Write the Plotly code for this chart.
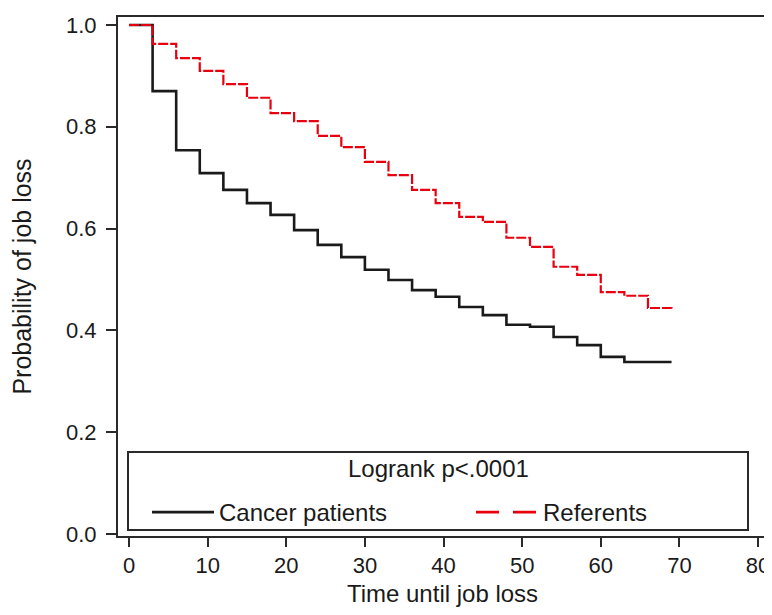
import plotly.graph_objects as go

# ---- data ----
time_months = [0, 3, 6, 9, 12, 15, 18, 21, 24, 27, 30, 33, 36, 39, 42, 45,
               48, 51, 54, 57, 60, 63, 66, 69]
cancer_patients = [1.000, 0.870, 0.754, 0.709, 0.676, 0.650, 0.627, 0.597,
                   0.568, 0.544, 0.519, 0.499, 0.479, 0.466, 0.446, 0.430,
                   0.411, 0.407, 0.387, 0.371, 0.348, 0.338, 0.338, 0.338]
referents = [1.000, 0.963, 0.935, 0.910, 0.884, 0.857, 0.827, 0.811,
             0.782, 0.760, 0.731, 0.705, 0.676, 0.650, 0.623, 0.613,
             0.582, 0.564, 0.525, 0.509, 0.475, 0.468, 0.444, 0.440]
x_ticks = [0, 10, 20, 30, 40, 50, 60, 70, 80]
y_ticks = [0.0, 0.2, 0.4, 0.6, 0.8, 1.0]
y_tick_labels = ["0.0", "0.2", "0.4", "0.6", "0.8", "1.0"]
legend_title = "Logrank p<.0001"

FONT = "Liberation Sans, Arial, sans-serif"
AX = "#2a2a2a"
RED = "#e8000f"
INK = "#1a1a1a"

# the page body has an 8px default margin: figure sits at (8, 8) on screen;
# keep the page from scrolling (8 + H + 8 <= 615)
OFF = 8
W, H = 772 - OFF, 615 - 2 * OFF
PW, PH = 649, 519
ML, MT = 118 - OFF, 17 - OFF
MR = W - ML - PW
MB = H - MT - PH


def px(xs):
    """screen x (px) -> paper fraction"""
    return (xs - OFF - ML) / PW


def py(ys):
    """screen y (px) -> paper fraction"""
    return (MT + PH - (ys - OFF)) / PH


fig = go.Figure()
fig.add_trace(go.Scatter(
    x=time_months, y=cancer_patients, mode="lines", line_shape="hv",
    line=dict(color=INK, width=2.6), name="Cancer patients",
    legendrank=1))
fig.add_trace(go.Scatter(
    x=time_months, y=referents, mode="lines", line_shape="hv",
    line=dict(color=RED, width=2.2, dash="10px,2px"), name="Referents",
    showlegend=False))
# legend key for the referents, drawn with the long dash seen in the key
fig.add_trace(go.Scatter(
    x=[None], y=[None], mode="lines",
    line=dict(color=RED, width=2.8, dash="23px,14px"), name="Referents",
    legendrank=2, legendwidth=150))

fig.update_layout(
    width=W, height=H,
    margin=dict(l=ML, r=MR, t=MT, b=MB, autoexpand=False),
    paper_bgcolor="white", plot_bgcolor="white",
    font=dict(family=FONT, size=22, color=INK),
    showlegend=True,
    legend=dict(
        orientation="h", x=px(147), y=py(490), xanchor="left", yanchor="top",
        borderwidth=0, bgcolor="rgba(0,0,0,0)",
        itemwidth=62, entrywidth=247, entrywidthmode="pixels",
        font=dict(family=FONT, size=24, color=INK),
        itemclick=False, itemdoubleclick=False),
    shapes=[dict(type="rect", xref="paper", yref="paper",
                 x0=px(128), x1=px(748), y0=py(530), y1=py(452),
                 line=dict(color=AX, width=2), fillcolor="white",
                 layer="above")],
    annotations=[dict(text=legend_title, xref="paper", yref="paper",
                      x=px(438), y=py(468), xanchor="center",
                      yanchor="middle", showarrow=False,
                      font=dict(family=FONT, size=24, color=INK))],
)
fig.update_xaxes(
    range=[-1.40, 81.14], tickmode="array", tickvals=x_ticks,
    showline=True, linecolor=AX, linewidth=2, mirror=True,
    ticks="outside", ticklen=9, tickwidth=2, tickcolor=AX,
    showgrid=False, zeroline=False, automargin=False,
    title=dict(text="Time until job loss", standoff=9,
               font=dict(size=24)),
    tickfont=dict(size=22))
fig.update_yaxes(
    range=[-0.004, 1.0157], tickmode="array", tickvals=y_ticks,
    ticktext=y_tick_labels,
    showline=True, linecolor=AX, linewidth=2, mirror=True,
    ticks="outside", ticklen=10, tickwidth=2, tickcolor=AX,
    ticklabelstandoff=5,
    showgrid=False, zeroline=False, automargin=False,
    title=dict(text="Probability of job loss", standoff=27,
               font=dict(size=25)),
    tickfont=dict(size=22))

fig.write_html("out.html")
